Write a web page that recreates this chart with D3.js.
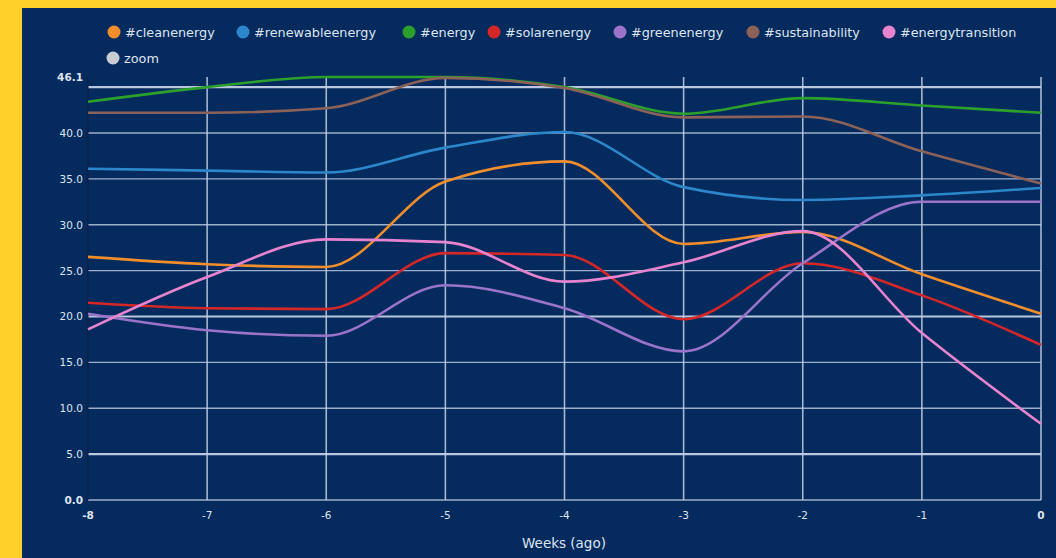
<!DOCTYPE html>
<html>
<head>
<meta charset="utf-8">
<script src="https://cdn.jsdelivr.net/npm/d3@7"></script>
<style>
  html, body { margin: 0; padding: 0; background: #ffd02a; }
  svg { display: block; }
</style>
</head>
<body>
<svg id="chart" width="1056" height="558"></svg>
<script>
const weeks = [-8, -7, -6, -5, -4, -3, -2, -1, 0];
const seriesNames = ["#cleanenergy", "#renewableenergy", "#energy", "#solarenergy", "#greenenergy", "#sustainability", "#energytransition"];
const cleanenergy       = [26.5, 25.7, 25.4, 34.7, 36.9, 27.9, 29.2, 24.6, 20.3];
const renewableenergy   = [36.1, 35.9, 35.7, 38.4, 40.1, 34.1, 32.7, 33.2, 34.0];
const energy            = [43.4, 45.0, 46.1, 46.1, 45.0, 42.1, 43.8, 43.0, 42.2];
const solarenergy       = [21.5, 20.9, 20.8, 26.9, 26.7, 19.7, 25.8, 22.3, 16.9];
const greenenergy       = [20.3, 18.5, 17.9, 23.4, 20.9, 16.2, 25.8, 32.5, 32.5];
const sustainability    = [42.2, 42.2, 42.7, 46.0, 44.9, 41.7, 41.8, 38.0, 34.5];
const energytransition  = [18.6, 24.3, 28.4, 28.1, 23.8, 25.9, 29.3, 18.2, 8.3];
const seriesValues = [cleanenergy, renewableenergy, energy, solarenergy, greenenergy, sustainability, energytransition];
const seriesColors = ["#f28e2b", "#2b87c9", "#2ca02c", "#d62728", "#9b74c9", "#8c6258", "#e884cf"];
const yTicks = [0, 5, 10, 15, 20, 25, 30, 35, 40, 45];
const yLabelTicks = [0, 5, 10, 15, 20, 25, 30, 35, 40, 46.1];
const yMax = 46.1;
const legendExtra = { name: "zoom", color: "#c9ccd3" };
const xTitle = "Weeks (ago)";

const svg = d3.select("#chart");
const W = 1056, H = 558;
svg.append("rect").attr("x", 22).attr("y", 8).attr("width", W - 22).attr("height", H - 8).attr("fill", "#052a5e");

const m = { left: 88, right: 1041, top: 77, bottom: 500 };
const x = d3.scaleLinear().domain([d3.min(weeks), d3.max(weeks)]).range([m.left, m.right]);
const y = d3.scaleLinear().domain([0, yMax]).range([m.bottom, m.top]);

const gridColor = "#c3d0e6";
const font = "DejaVu Sans, Verdana, sans-serif";
// horizontal grid
svg.append("g").selectAll("line").data(yTicks).join("line")
  .attr("x1", m.left).attr("x2", m.right)
  .attr("y1", d => y(d)).attr("y2", d => y(d))
  .attr("stroke", gridColor)
  .attr("stroke-width", d => (d === 45 || d === 20 || d === 5) ? 2.2 : 1.4)
  .attr("opacity", d => (d === 45 || d === 20 || d === 5) ? 0.95 : 0.8);
// vertical grid
svg.append("g").selectAll("line").data(weeks.filter(w => w !== weeks[0])).join("line")
  .attr("x1", d => x(d)).attr("x2", d => x(d))
  .attr("y1", m.top).attr("y2", m.bottom)
  .attr("stroke", gridColor).attr("stroke-width", 1.6).attr("opacity", 0.85);
// left axis line
svg.append("line").attr("x1", m.left).attr("x2", m.left).attr("y1", m.top).attr("y2", m.bottom)
  .attr("stroke", "#0c1f3f").attr("stroke-width", 1);

// y labels
svg.append("g").selectAll("text").data(yLabelTicks).join("text")
  .attr("x", m.left - 5).attr("y", d => y(d) + 4)
  .attr("text-anchor", "end")
  .attr("font-family", font)
  .attr("font-size", 10.5)
  .attr("font-weight", d => (d === yMax || d === 0) ? "bold" : "normal")
  .attr("fill", "#dde5f1")
  .text(d => d3.format(".1f")(d));

// x labels
svg.append("g").selectAll("text").data(weeks).join("text")
  .attr("x", d => x(d)).attr("y", 519)
  .attr("text-anchor", "middle")
  .attr("font-family", font)
  .attr("font-size", 10.5)
  .attr("font-weight", (d, i) => (i === 0 || i === weeks.length - 1) ? "bold" : "normal")
  .attr("fill", "#dde5f1")
  .text(d => d);

svg.append("text").attr("x", 564).attr("y", 548)
  .attr("text-anchor", "middle")
  .attr("font-family", font)
  .attr("font-size", 13.5).attr("fill", "#dde5f1")
  .text(xTitle);

// lines
const line = d3.line().x((d, i) => x(weeks[i])).y(d => y(d)).curve(d3.curveMonotoneX);
svg.append("g").selectAll("path").data(seriesValues).join("path")
  .attr("d", d => line(d))
  .attr("fill", "none")
  .attr("stroke", (d, i) => seriesColors[i])
  .attr("stroke-width", 2.6)
  .attr("stroke-linejoin", "round");

// legend
const legendX = [114, 243, 409, 494, 620, 753, 889];
const lg = svg.append("g");
seriesNames.forEach((n, i) => {
  const g = lg.append("g").attr("transform", `translate(${legendX[i]},32)`);
  g.append("circle").attr("r", 6.5).attr("fill", seriesColors[i]);
  g.append("text").attr("x", 11).attr("y", 4.5)
    .attr("font-family", font)
    .attr("font-size", 12.8).attr("fill", "#dde5f1").text(n);
});
const gz = lg.append("g").attr("transform", "translate(113,58)");
gz.append("circle").attr("r", 6.5).attr("fill", legendExtra.color);
gz.append("text").attr("x", 11).attr("y", 4.5)
  .attr("font-family", font)
  .attr("font-size", 12.8).attr("fill", "#dde5f1").text(legendExtra.name);
</script>
</body>
</html>
